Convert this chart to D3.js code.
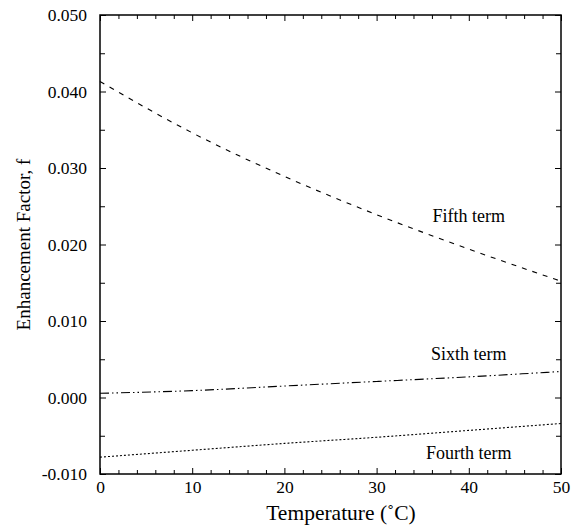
<!DOCTYPE html>
<html>
<head>
<meta charset="utf-8">
<script src="https://cdn.jsdelivr.net/npm/d3@7"></script>
<style>
  body { margin: 0; background: #fff; }
</style>
</head>
<body>
<svg id="chart"></svg>
<script>
// data
var temps = [0, 10, 20, 30, 40, 50];
var fifthTerm = [0.0413, 0.0346, 0.0289, 0.0239, 0.0194, 0.0152];
var sixthTerm = [0.00055, 0.0009, 0.0015, 0.0021, 0.0027, 0.0034];
var fourthTerm = [-0.0078, -0.0069, -0.0060, -0.0052, -0.0043, -0.0034];
var xTicks = [0, 10, 20, 30, 40, 50];
var yTicks = [-0.010, 0.000, 0.010, 0.020, 0.030, 0.040, 0.050];

var serif = "'Liberation Serif', 'Times New Roman', serif";
var width = 583, height = 529;
var margin = {left: 100, right: 22, top: 15, bottom: 55};

var svg = d3.select("#chart")
    .attr("width", width)
    .attr("height", height)
    .style("font-family", serif);

var x = d3.scaleLinear().domain([0, 50]).range([margin.left, width - margin.right]);
var y = d3.scaleLinear().domain([-0.010, 0.050]).range([height - margin.bottom, margin.top]);

// minor ticks
var xMinor = d3.range(0, 51, 2).filter(function(d) { return d % 10 !== 0; });
var yMinor = d3.range(-0.005, 0.05, 0.01);

var fmt3 = d3.format(".3f");
function yFormat(d) { return fmt3(d).replace("\u2212", "-"); }

function tickLines(axis) {
    axis.attr("font-family", null).attr("font-size", null);
    axis.selectAll("line").attr("stroke", "#000").attr("stroke-width", 1);
    axis.selectAll("text").style("font-family", serif).style("font-size", "17.5px");
    axis.select(".domain").remove();
}

// bottom axis
svg.append("g")
    .attr("transform", "translate(0," + y.range()[0] + ")")
    .call(d3.axisBottom(x).tickValues(xTicks).tickSizeInner(-6).tickSizeOuter(0).tickPadding(7).tickFormat(d3.format("d")))
    .call(tickLines);
svg.append("g")
    .attr("transform", "translate(0," + y.range()[0] + ")")
    .call(d3.axisBottom(x).tickValues(xMinor).tickSize(-4).tickFormat(""))
    .call(tickLines);

// top axis
svg.append("g")
    .attr("transform", "translate(0," + y.range()[1] + ")")
    .call(d3.axisTop(x).tickValues(xTicks).tickSize(-6).tickFormat(""))
    .call(tickLines);
svg.append("g")
    .attr("transform", "translate(0," + y.range()[1] + ")")
    .call(d3.axisTop(x).tickValues(xMinor).tickSize(-4).tickFormat(""))
    .call(tickLines);

// left axis
svg.append("g")
    .attr("transform", "translate(" + x.range()[0] + ",0)")
    .call(d3.axisLeft(y).tickValues(yTicks).tickSizeInner(-6).tickSizeOuter(0).tickPadding(13).tickFormat(yFormat))
    .call(tickLines);
svg.append("g")
    .attr("transform", "translate(" + x.range()[0] + ",0)")
    .call(d3.axisLeft(y).tickValues(yMinor).tickSize(-5).tickFormat(""))
    .call(tickLines);

// right axis
svg.append("g")
    .attr("transform", "translate(" + x.range()[1] + ",0)")
    .call(d3.axisRight(y).tickValues(yTicks).tickSize(-6).tickFormat(""))
    .call(tickLines);
svg.append("g")
    .attr("transform", "translate(" + x.range()[1] + ",0)")
    .call(d3.axisRight(y).tickValues(yMinor).tickSize(-5).tickFormat(""))
    .call(tickLines);

// frame
svg.append("rect")
    .attr("x", x.range()[0])
    .attr("y", y.range()[1])
    .attr("width", x.range()[1] - x.range()[0])
    .attr("height", y.range()[0] - y.range()[1])
    .attr("fill", "none")
    .attr("stroke", "#000")
    .attr("stroke-width", 1.5);

// curves
var series = [
    {name: "Fifth term", values: fifthTerm, dash: "5,6"},
    {name: "Sixth term", values: sixthTerm, dash: "9,3,1.5,3,1.5,3"},
    {name: "Fourth term", values: fourthTerm, dash: "2,2"}
];

var line = d3.line()
    .x(function(d, i) { return x(temps[i]); })
    .y(function(d) { return y(d); })
    .curve(d3.curveMonotoneX);

svg.selectAll(".curve")
    .data(series)
    .enter().append("path")
    .attr("class", "curve")
    .attr("d", function(d) { return line(d.values); })
    .attr("fill", "none")
    .attr("stroke", "#000")
    .attr("stroke-width", 1.1)
    .attr("stroke-dasharray", function(d) { return d.dash; });

// curve labels
var labels = [
    {text: "Fifth term", t: 40.0, v: 0.0237},
    {text: "Sixth term", t: 40.0, v: 0.0057},
    {text: "Fourth term", t: 40.0, v: -0.00725}
];
svg.selectAll(".lbl")
    .data(labels)
    .enter().append("text")
    .attr("class", "lbl")
    .attr("x", function(d) { return x(d.t); })
    .attr("y", function(d) { return y(d.v); })
    .attr("text-anchor", "middle")
    .attr("dy", ".35em")
    .style("font-size", "18px")
    .text(function(d) { return d.text; });

// axis titles
svg.append("text")
    .attr("x", 341)
    .attr("y", 520)
    .attr("text-anchor", "middle")
    .style("font-size", "21.5px")
    .text("Temperature  (\u02DAC)");

svg.append("text")
    .attr("transform", "translate(30," + (y.range()[0] + y.range()[1]) / 2 + ") rotate(-90)")
    .attr("text-anchor", "middle")
    .style("font-size", "19px")
    .text("Enhancement Factor, f");
</script>
</body>
</html>
